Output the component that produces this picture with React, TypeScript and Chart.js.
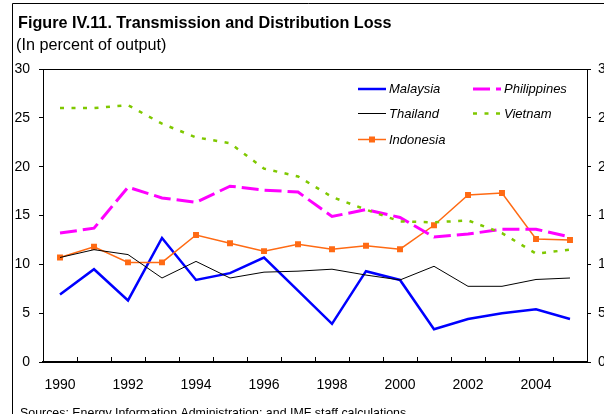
import React, { useEffect, useRef } from "react";
import { Chart, registerables } from "chart.js";

Chart.register(...registerables);

const years = ["1990","1991","1992","1993","1994","1995","1996","1997","1998","1999","2000","2001","2002","2003","2004","2005"];
const malaysia = [6.9, 9.5, 6.3, 12.7, 8.4, 9.1, 10.7, 7.3, 3.9, 9.3, 8.4, 3.35, 4.4, 5.0, 5.4, 4.4];
const thailand = [10.7, 11.5, 11.0, 8.6, 10.3, 8.6, 9.2, 9.3, 9.5, 8.9, 8.4, 9.8, 7.75, 7.75, 8.45, 8.6];
const indonesia = [10.7, 11.8, 10.2, 10.2, 13.0, 12.15, 11.35, 12.05, 11.55, 11.9, 11.55, 14.0, 17.1, 17.3, 12.6, 12.5];
const philippines = [13.2, 13.7, 17.9, 16.8, 16.35, 18.0, 17.6, 17.4, 14.9, 15.6, 14.8, 12.8, 13.1, 13.6, 13.6, 12.8];
const vietnam = [26.0, 26.0, 26.3, 24.4, 23.0, 22.4, 19.8, 19.0, 16.9, 15.6, 14.4, 14.3, 14.5, 13.2, 11.1, 11.5];

const FONT = "Arial, 'Liberation Sans', sans-serif";
const BLUE = "#0000FF";
const MAGENTA = "#FF00FF";
const GREEN = "#7FC800";
const ORANGE = "#FF6A13";

const decor = {
  id: "decor",
  afterDraw(chart: any) {
    const ctx = chart.ctx as CanvasRenderingContext2D;
    const area = chart.chartArea;
    const xs = chart.scales.x;
    ctx.save();
    // frame
    ctx.strokeStyle = "#000";
    ctx.lineWidth = 1;
    ctx.beginPath();
    ctx.moveTo(12.5, 414);
    ctx.lineTo(12.5, 3.5);
    ctx.lineTo(604, 3.5);
    ctx.stroke();
    // plot top border
    ctx.beginPath();
    ctx.moveTo(area.left, area.top + 0.5);
    ctx.lineTo(area.right, area.top + 0.5);
    ctx.stroke();
    // inward x ticks
    ctx.lineWidth = 1;
    ctx.beginPath();
    for (let i = 1; i < years.length; i++) {
      const x = Math.round((xs.getPixelForTick(i - 1) + xs.getPixelForTick(i)) / 2) + 0.5;
      ctx.moveTo(x, area.bottom);
      ctx.lineTo(x, area.bottom - 5);
    }
    ctx.stroke();
    // titles
    ctx.fillStyle = "#000";
    ctx.textAlign = "left";
    ctx.textBaseline = "alphabetic";
    ctx.font = `bold 16.2px ${FONT}`;
    ctx.fillText("Figure IV.11. Transmission and Distribution Loss", 18, 27.5);
    ctx.font = `16.2px ${FONT}`;
    ctx.fillText("(In percent of output)", 16, 50);
    ctx.font = `12.4px ${FONT}`;
    ctx.fillText("Sources: Energy Information Administration; and IMF staff calculations.", 20, 417);
    // legend
    const items = [
      { label: "Malaysia", color: BLUE, width: 2.5, dash: [] as number[], x: 358, y: 89, marker: false },
      { label: "Philippines", color: MAGENTA, width: 3, dash: [17, 6], x: 473, y: 89, marker: false },
      { label: "Thailand", color: "#000", width: 1, dash: [] as number[], x: 358, y: 113.5, marker: false },
      { label: "Vietnam", color: GREEN, width: 2.5, dash: [4, 7.5], x: 473, y: 113.5, marker: false },
      { label: "Indonesia", color: ORANGE, width: 1.5, dash: [] as number[], x: 358, y: 139.5, marker: true },
    ];
    for (const it of items) {
      ctx.strokeStyle = it.color;
      ctx.lineWidth = it.width;
      ctx.setLineDash(it.dash);
      ctx.beginPath();
      ctx.moveTo(it.x, it.y);
      ctx.lineTo(it.x + 28, it.y);
      ctx.stroke();
      ctx.setLineDash([]);
      if (it.marker) {
        ctx.fillStyle = it.color;
        ctx.fillRect(it.x + 14 - 3, it.y - 3, 6, 6);
      }
      ctx.fillStyle = "#000";
      ctx.font = `italic 13px ${FONT}`;
      ctx.textBaseline = "middle";
      ctx.fillText(it.label, it.x + 31, it.y + 0.5);
    }
    ctx.restore();
  },
};

export default function App() {
  const ref = useRef<HTMLCanvasElement | null>(null);
  useEffect(() => {
    document.body.style.margin = "0";
    const canvas = ref.current!;
    const yTicks = { font: { size: 14, family: FONT }, color: "#000", stepSize: 5 };
    const chart = new Chart(canvas, {
      type: "line",
      data: {
        labels: years,
        datasets: [
          { label: "Thailand", data: thailand, borderColor: "#000", borderWidth: 1, pointRadius: 0, tension: 0 },
          { label: "Vietnam", data: vietnam, borderColor: GREEN, borderWidth: 2.5, borderDash: [4, 7.5], pointRadius: 0, tension: 0 },
          { label: "Philippines", data: philippines, borderColor: MAGENTA, borderWidth: 3, borderDash: [17, 6], pointRadius: 0, tension: 0 },
          { label: "Indonesia", data: indonesia, borderColor: ORANGE, backgroundColor: ORANGE, borderWidth: 1.5, pointStyle: "rect", pointRadius: 4.2, pointBorderWidth: 0, pointBackgroundColor: ORANGE, tension: 0 },
          { label: "Malaysia", data: malaysia, borderColor: BLUE, borderWidth: 2.5, pointRadius: 0, tension: 0 },
        ],
      },
      options: {
        responsive: false,
        animation: false,
        layout: { padding: { top: 69, left: 0, right: 0, bottom: 0 } },
        plugins: { legend: { display: false }, tooltip: { enabled: false }, title: { display: false } },
        scales: {
          x: {
            type: "category",
            offset: true,
            grid: { display: true, drawOnChartArea: false, drawTicks: false },
            border: { display: true, color: "#000", width: 2 },
            ticks: {
              autoSkip: false,
              maxRotation: 0,
              padding: 15,
              color: "#000",
              font: { size: 14, family: FONT },
              callback: (_v: any, i: number) => (Number(years[i]) % 2 === 0 ? years[i] : ""),
            },
            afterFit: (s: any) => { s.height = 52; },
          },
          y: {
            position: "left",
            min: 0,
            max: 30,
            grid: { drawOnChartArea: false, tickLength: 4, color: "#000" },
            border: { display: true, color: "#000", width: 1 },
            ticks: { ...yTicks, padding: 9 },
            afterFit: (s: any) => { s.width = 43; },
          },
          y2: {
            position: "right",
            min: 0,
            max: 30,
            grid: { drawOnChartArea: false, tickLength: 4, color: "#000" },
            border: { display: true, color: "#000", width: 1 },
            ticks: { ...yTicks, padding: 7 },
            afterFit: (s: any) => { s.width = 17; },
          },
        },
      },
      plugins: [decor],
    });
    return () => chart.destroy();
  }, []);
  return (
    <div style={{ width: 604, height: 414, background: "#fff" }}>
      <canvas ref={ref} width={604} height={414} style={{ display: "block" }} />
    </div>
  );
}
